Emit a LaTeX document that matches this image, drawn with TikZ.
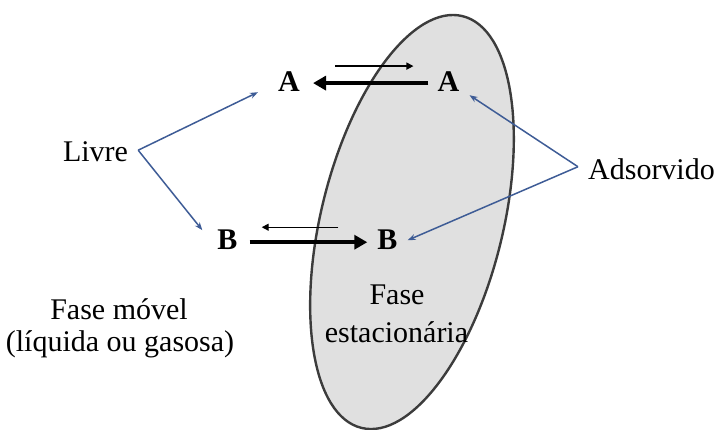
\documentclass[tikz,border=0pt]{standalone}
\usepackage{fontspec}
\setmainfont{LiberationSerif}[Extension=.ttf, UprightFont=*-Regular, BoldFont=*-Bold, ItalicFont=*-Italic, BoldItalicFont=*-BoldItalic]
\usetikzlibrary{arrows.meta}
\definecolor{linkblue}{RGB}{62,92,150}
\definecolor{phasefill}{RGB}{224,224,224}
\definecolor{phaseline}{RGB}{60,60,60}
\tikzset{
  lbl/.style={inner sep=0pt, anchor=base, font=\rmfamily\fontsize{30}{36}\selectfont},
  spec/.style={inner sep=0pt, anchor=base, font=\rmfamily\fontsize{30}{36}\selectfont\bfseries},
  thickarr/.style={line width=4pt, -{Triangle[length=13pt,width=14pt]}},
  thinarr/.style={line width=1.4pt, -{Triangle[length=7pt,width=7pt]}},
  bluearr/.style={linkblue, line width=1.5pt, -{Stealth[length=8pt,width=6pt]}},
}
\begin{document}
\begin{tikzpicture}[x=1pt,y=-1pt]
\useasboundingbox (0,0) rectangle (718,430);
% stationary phase
\coordinate (pc) at (412,222);
\draw[fill=phasefill, draw=phaseline, line width=2.4pt, rotate around={76.2:(pc)}]
  (pc) ellipse [x radius=212pt, y radius=91pt];
% texts
\node[lbl] (livre) at (95.5,162) {Livre};
\node[lbl] (ads) at (651.5,180) {Adsorvido};
\node[spec] (A1) at (289,92) {A};
\node[spec] (A2) at (448.5,92) {A};
\node[spec] (B1) at (227.5,250) {B};
\node[spec] (B2) at (387.5,250) {B};
\node[lbl] (fase) at (397,305) {Fase};
\node[lbl] (estac) at (396.5,343) {estacionária};
\node[lbl] (fm) at (119,320) {Fase móvel};
\node[lbl] (lq) at (120,352) {(líquida ou gasosa)};
% equilibrium arrows
\draw[thickarr, shorten <=9pt, shorten >=13pt] ([yshift=-1pt]A2.west) -- ([yshift=-1pt]A1.east);
\draw[thinarr, shorten <=35pt, shorten >=24pt] ([yshift=16pt]A1.east) -- ([yshift=16pt]A2.west);
\draw[thickarr, shorten <=12pt, shorten >=10pt] ([yshift=-2pt]B1.east) -- ([yshift=-2pt]B2.west);
\draw[thinarr, shorten <=39pt, shorten >=24pt] ([yshift=13pt]B2.west) -- ([yshift=13pt]B1.east);
% pointer lines
\coordinate (lv) at ([xshift=10pt,yshift=2pt]livre.east);
\coordinate (ad) at ([xshift=-10pt,yshift=3pt]ads.west);
\draw[bluearr] (lv) -- ([xshift=-20pt]A1.south west);
\draw[bluearr] (lv) -- ([xshift=-15pt]B1.north west);
\draw[bluearr] (ad) -- ([xshift=10pt,yshift=-3pt]A2.south east);
\draw[bluearr] (ad) -- ([xshift=10pt]B2.east);
\end{tikzpicture}
\end{document}
